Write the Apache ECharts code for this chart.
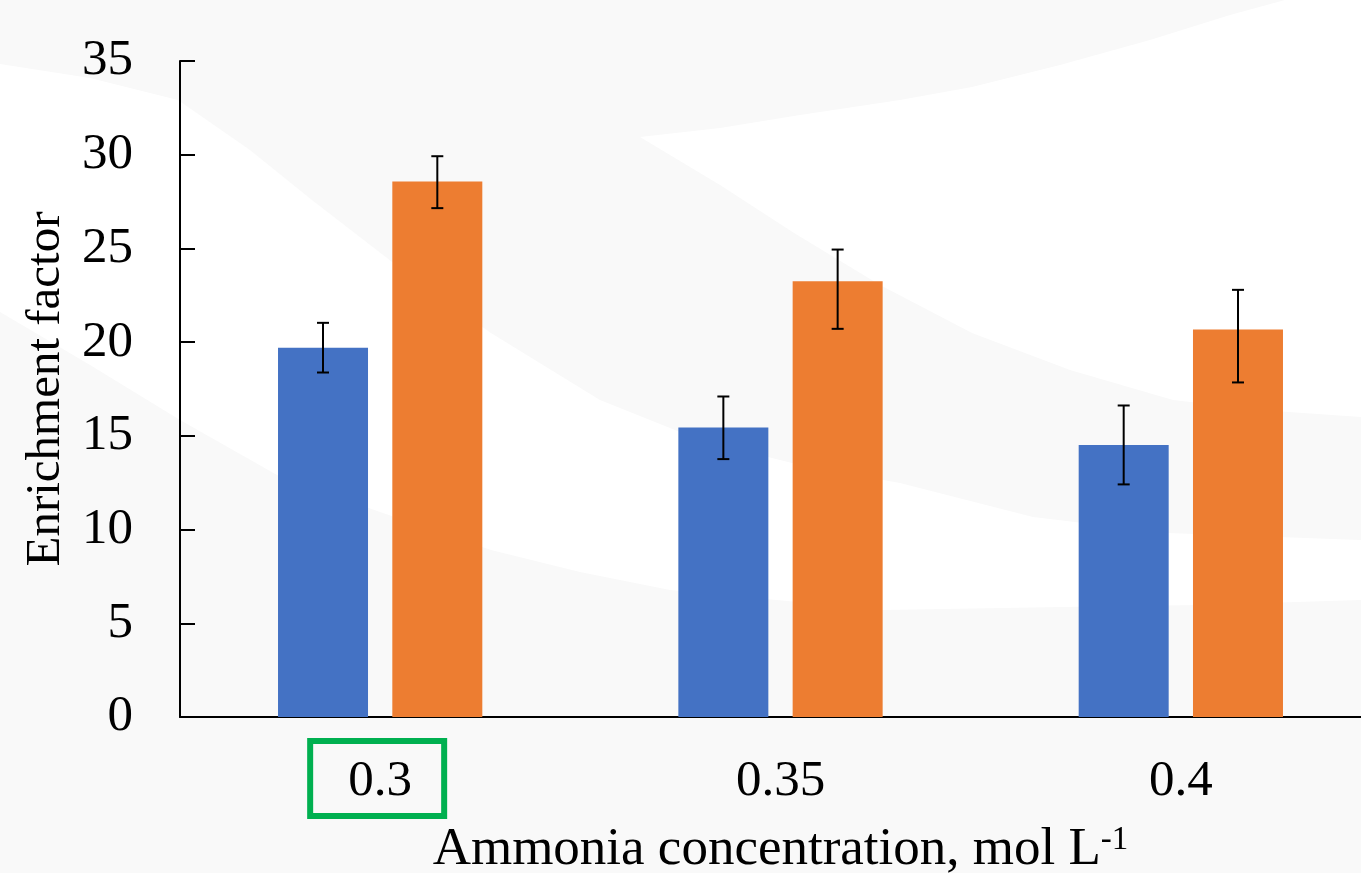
<!DOCTYPE html>
<html>
<head>
<meta charset="utf-8">
<title>Enrichment factor vs ammonia concentration</title>
<script src="https://cdn.jsdelivr.net/npm/echarts@6/dist/echarts.min.js"></script>
<style>
  html, body { margin: 0; padding: 0; background: #f9f9f9; }
  #chart { width: 1361px; height: 873px; }
</style>
</head>
<body>
<div id="chart"></div>
<script>
// ---- data ----
const categories = ['0.3', '0.35', '0.4'];
const yTicks = [0, 5, 10, 15, 20, 25, 30, 35];

const blueValues = [19.70, 15.45, 14.51];
const blueLow    = [18.38, 13.76, 12.41];
const blueHigh   = [21.03, 17.10, 16.62];

const orangeValues = [28.57, 23.25, 20.68];
const orangeLow    = [27.15, 20.71, 17.85];
const orangeHigh   = [29.92, 24.94, 22.79];

const highlightedCategory = '0.3';

// ---- styling ----
const FONT = '"Liberation Serif", "Times New Roman", serif';
const BLUE = '#4472C4';
const ORANGE = '#ED7D31';
const BAR_WIDTH = 90;
const BAR_GAP = 0.27;   // fraction of bar width between the two bars of a group

const chart = echarts.init(document.getElementById('chart'), null, { renderer: 'canvas' });

// error bars drawn on top of the bars, shifted to the bar centre of each series
function errorBarRenderer(side) {
  return function (params, api) {
    const cat = api.value(0);
    const lo = api.coord([cat, api.value(1)]);
    const hi = api.coord([cat, api.value(2)]);
    const x = lo[0] + side * BAR_WIDTH * (1 + BAR_GAP) / 2;
    const cap = 6;
    const style = { stroke: '#000', lineWidth: 2 };
    return {
      type: 'group',
      children: [
        { type: 'line', shape: { x1: x, y1: hi[1], x2: x, y2: lo[1] }, style: style },
        { type: 'line', shape: { x1: x - cap, y1: hi[1], x2: x + cap, y2: hi[1] }, style: style },
        { type: 'line', shape: { x1: x - cap, y1: lo[1], x2: x + cap, y2: lo[1] }, style: style }
      ]
    };
  };
}

function errorData(low, high) {
  return categories.map((c, i) => [i, low[i], high[i]]);
}

// soft white swooshes over the grey page background
const swooshA = [
  [0, 64], [90, 78], [178, 100], [250, 150], [312, 200], [400, 268], [491, 333],
  [600, 400], [700, 440], [800, 465], [900, 483], [1033, 517], [1167, 533], [1361, 540],
  [1361, 600], [1200, 605], [1062, 607], [883, 610], [670, 590], [580, 572], [491, 550],
  [380, 512], [277, 475], [180, 420], [90, 365], [0, 312]
];
const swooshB = [
  [640, 137], [720, 128], [800, 115], [900, 100], [972, 87], [1060, 65], [1150, 40],
  [1230, 15], [1285, 0], [1361, 0], [1361, 417], [1260, 410], [1173, 400], [1070, 370],
  [972, 333], [880, 285], [794, 233], [720, 185]
];

const option = {
  backgroundColor: '#f9f9f9',
  animation: false,
  textStyle: { fontFamily: FONT, color: '#000' },
  graphic: {
    elements: [
      { type: 'polygon', id: 'swooshA', z: -10, silent: true, shape: { points: swooshA }, style: { fill: '#ffffff' } },
      { type: 'polygon', id: 'swooshB', z: -10, silent: true, shape: { points: swooshB }, style: { fill: '#ffffff' } }
    ]
  },
  grid: {
    left: 180,
    top: 61,
    width: 1201,
    height: 656,
    containLabel: false,
    outerBoundsMode: 'none'
  },
  xAxis: {
    type: 'category',
    data: categories,
    axisLine: { show: true, onZero: false, lineStyle: { color: '#000', width: 2 } },
    axisTick: { show: false },
    splitLine: { show: false },
    axisLabel: {
      margin: 39,
      fontSize: 51,
      fontFamily: FONT,
      color: '#000'
    },
    name: '{a|Ammonia concentration, mol L}{sup|-1}',
    nameLocation: 'middle',
    nameGap: 107,
    nameTextStyle: {
      fontFamily: FONT,
      color: '#000',
      rich: {
        a: { fontSize: 53, fontFamily: FONT, color: '#000', lineHeight: 53, verticalAlign: 'top' },
        sup: { fontSize: 33, fontFamily: FONT, color: '#000', lineHeight: 33, verticalAlign: 'top' }
      }
    }
  },
  yAxis: {
    type: 'value',
    min: yTicks[0],
    max: yTicks[yTicks.length - 1],
    interval: 5,
    axisLine: { show: true, lineStyle: { color: '#000', width: 2 } },
    axisTick: { show: true, inside: true, length: 15, lineStyle: { color: '#000', width: 2 } },
    splitLine: { show: false },
    axisLabel: {
      margin: 47,
      fontSize: 51,
      fontFamily: FONT,
      color: '#000'
    },
    name: 'Enrichment factor',
    nameLocation: 'middle',
    nameGap: 102,
    nameTextStyle: { fontSize: 49, fontFamily: FONT, color: '#000' }
  },
  series: [
    {
      name: 'Series 1',
      type: 'bar',
      data: blueValues,
      barWidth: BAR_WIDTH,
      barGap: (BAR_GAP * 100) + '%',
      itemStyle: { color: BLUE },
      z: 2
    },
    {
      name: 'Series 2',
      type: 'bar',
      data: orangeValues,
      barWidth: BAR_WIDTH,
      barGap: (BAR_GAP * 100) + '%',
      itemStyle: { color: ORANGE },
      z: 2
    },
    {
      name: 'Series 1 error',
      type: 'custom',
      renderItem: errorBarRenderer(-1),
      encode: { x: 0, y: [1, 2] },
      data: errorData(blueLow, blueHigh),
      z: 5
    },
    {
      name: 'Series 2 error',
      type: 'custom',
      renderItem: errorBarRenderer(1),
      encode: { x: 0, y: [1, 2] },
      data: errorData(orangeLow, orangeHigh),
      z: 5
    }
  ]
};

chart.setOption(option);

// green frame around the highlighted category label
const cx = chart.convertToPixel({ xAxisIndex: 0 }, highlightedCategory);
chart.setOption({
  graphic: {
    elements: [
      {
        type: 'rect',
        id: 'highlight',
        z: 100,
        silent: true,
        shape: { x: cx - 70, y: 741, width: 134, height: 75 },
        style: { fill: 'none', stroke: '#00B050', lineWidth: 6 }
      }
    ]
  }
});
</script>
</body>
</html>
